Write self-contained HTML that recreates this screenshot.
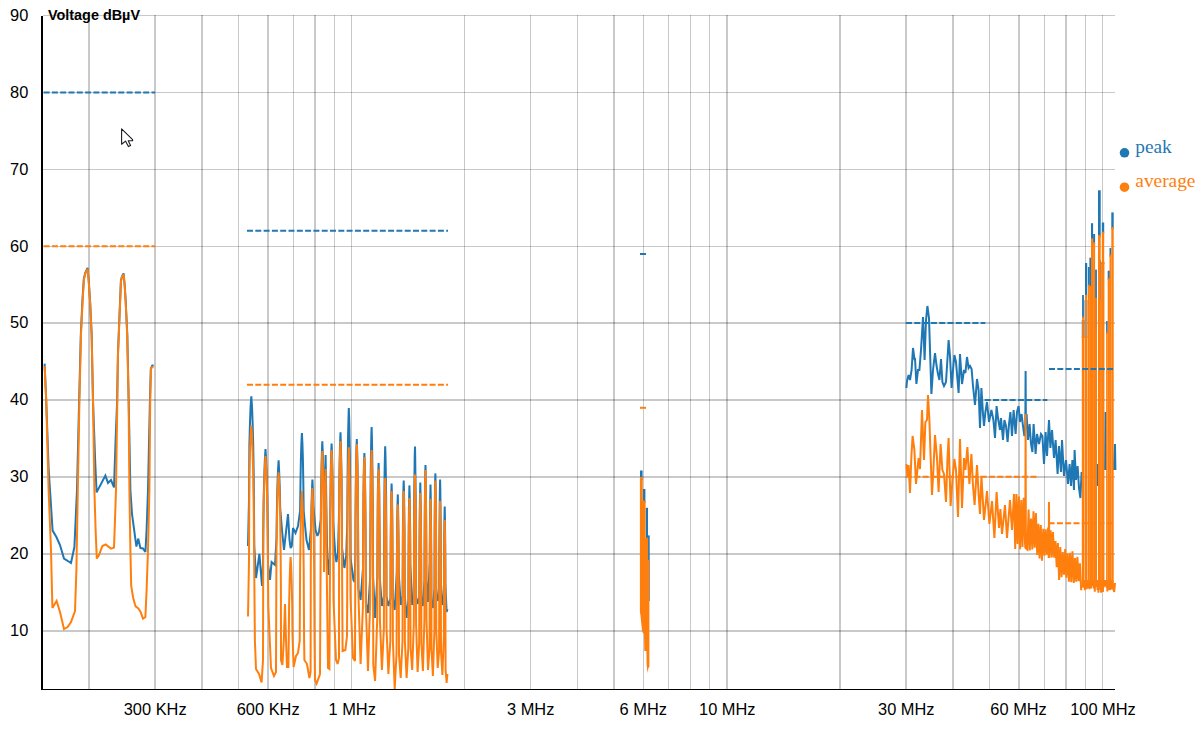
<!DOCTYPE html>
<html><head><meta charset="utf-8"><title>EMC chart</title>
<style>html,body{margin:0;padding:0;background:#fff;width:1202px;height:740px;overflow:hidden;font-family:"Liberation Sans",sans-serif}</style>
</head><body>
<svg width="1202" height="740" viewBox="0 0 1202 740" style="position:absolute;left:0;top:0;display:block">
<rect width="1202" height="740" fill="#fff"/>
<g fill="#000" fill-opacity="0.21" shape-rendering="crispEdges"><rect x="88" y="15" width="2" height="674"/><rect x="154" y="15" width="2" height="674"/><rect x="201" y="15" width="2" height="674"/><rect x="238" y="15" width="1" height="674"/><rect x="267" y="15" width="2" height="674"/><rect x="293" y="15" width="1" height="674"/><rect x="314" y="15" width="2" height="674"/><rect x="334" y="15" width="1" height="674"/><rect x="351" y="15" width="1" height="674"/><rect x="464" y="15" width="1" height="674"/><rect x="530" y="15" width="1" height="674"/><rect x="577" y="15" width="1" height="674"/><rect x="613" y="15" width="2" height="674"/><rect x="643" y="15" width="1" height="674"/><rect x="668" y="15" width="1" height="674"/><rect x="690" y="15" width="1" height="674"/><rect x="709" y="15" width="1" height="674"/><rect x="726" y="15" width="2" height="674"/><rect x="839" y="15" width="2" height="674"/><rect x="905" y="15" width="2" height="674"/><rect x="952" y="15" width="2" height="674"/><rect x="989" y="15" width="1" height="674"/><rect x="1018" y="15" width="2" height="674"/><rect x="1044" y="15" width="1" height="674"/><rect x="1065" y="15" width="2" height="674"/><rect x="1085" y="15" width="1" height="674"/><rect x="1102" y="15" width="1" height="674"/><rect x="43" y="15" width="1072" height="1"/><rect x="43" y="92" width="1072" height="1"/><rect x="43" y="169" width="1072" height="1"/><rect x="43" y="246" width="1072" height="1"/><rect x="43" y="322" width="1072" height="2"/><rect x="43" y="399" width="1072" height="2"/><rect x="43" y="476" width="1072" height="2"/><rect x="43" y="553" width="1072" height="2"/><rect x="43" y="630" width="1072" height="2"/></g>
<polyline points="44.6,363.6 46.2,400.0 48.6,468.0 50.0,490.0 52.6,530.6 56.4,537.0 60.0,545.0 64.0,558.6 71.0,563.0 74.4,547.0 77.0,490.0 79.1,402.0 80.8,335.0 82.4,301.0 83.8,279.0 85.4,272.5 87.6,267.8 88.7,280.0 90.1,301.0 91.7,335.0 93.0,401.0 95.2,462.0 96.6,492.4 105.4,475.6 108.0,483.0 111.0,480.0 114.0,487.4 115.6,440.0 117.1,402.0 117.9,355.0 119.5,315.0 120.9,281.0 121.9,276.5 123.6,273.4 124.7,285.0 125.7,301.0 127.3,335.0 128.7,401.0 130.4,490.0 132.0,514.0 136.4,546.6 138.2,538.6 140.4,548.0 143.0,548.4 145.4,552.0 146.6,530.0 148.0,490.0 149.9,402.0 150.8,369.0 152.0,365.8 153.6,365.2" fill="none" stroke="#1f77b4" stroke-width="2" stroke-linejoin="miter" stroke-miterlimit="3" stroke-linecap="butt" />
<polyline points="248.0,546.0 249.0,500.0 249.4,444.4 250.0,422.4 250.6,406.4 251.3,396.4 252.0,406.4 252.6,422.4 253.2,444.4 253.7,474.4 254.0,511.4 254.3,546.4 256.0,578.0 259.4,554.0 262.0,586.0 263.0,564.0 263.3,527.0 263.7,497.0 264.3,475.0 264.9,459.0 265.5,449.0 266.1,459.0 266.7,475.0 267.3,497.0 267.7,527.0 268.0,564.0 270.0,580.0 271.6,562.0 275.0,565.0 276.5,538.4 276.9,508.4 277.4,486.4 278.0,470.4 278.6,460.4 279.1,470.4 279.7,486.4 280.2,508.4 282.0,530.0 284.0,550.0 288.0,514.0 289.5,540.0 290.6,548.0 291.8,546.0 293.0,528.0 295.5,533.0 298.0,526.0 300.1,511.0 300.5,481.0 300.9,459.0 301.4,443.0 301.9,433.0 302.4,443.0 302.9,459.0 303.3,481.0 303.7,511.0 304.5,520.0 306.5,540.0 309.0,550.0 311.1,527.6 311.5,505.6 312.0,489.6 312.4,479.6 312.9,489.6 313.3,505.6 315.6,530.0 317.4,536.0 319.0,532.0 320.8,519.4 321.1,489.4 321.5,467.4 321.9,451.4 322.3,441.4 322.7,451.4 323.2,467.4 323.6,489.4 323.9,519.4 324.0,540.0 325.6,455.0 327.0,545.0 328.6,575.0 330.0,558.6 330.2,521.6 330.5,491.6 330.8,469.6 331.2,453.6 331.6,443.6 332.0,453.6 332.4,469.6 332.8,491.6 333.1,521.6 335.4,556.0 336.4,562.0 338.0,552.0 339.1,510.4 339.3,480.4 339.7,458.4 340.1,442.4 340.5,432.4 340.8,442.4 341.2,458.4 341.6,480.4 341.8,510.4 342.0,547.4 343.4,560.0 344.4,568.0 346.2,556.0 347.3,523.0 347.5,486.0 347.8,456.0 348.1,434.0 348.5,418.0 348.8,408.0 349.2,418.0 349.5,434.0 349.9,456.0 350.1,486.0 350.3,523.0 350.5,558.0 352.4,572.0 353.4,580.0 354.6,582.0 355.4,554.0 355.5,517.0 355.8,487.0 356.1,465.0 356.4,449.0 356.8,439.0 357.1,449.0 357.5,465.0 357.8,487.0 358.0,517.0 358.2,554.0 358.4,589.0 360.6,600.0 363.0,568.0 363.2,531.0 363.4,501.0 363.7,479.0 364.0,463.0 364.4,453.0 364.7,463.0 365.0,479.0 365.3,501.0 365.6,531.0 365.7,568.0 365.9,603.0 368.0,613.0 370.2,577.0 370.3,542.0 370.5,505.0 370.7,475.0 371.0,453.0 371.3,437.0 371.6,427.0 371.9,437.0 372.2,453.0 372.5,475.0 372.8,505.0 372.9,542.0 373.1,577.0 375.1,618.0 377.3,578.0 377.5,541.0 377.7,511.0 377.9,489.0 378.3,473.0 378.6,463.0 378.9,473.0 379.2,489.0 379.4,511.0 379.7,541.0 379.8,578.0 381.9,606.0 383.9,596.4 384.0,561.4 384.2,524.4 384.4,494.4 384.6,472.4 384.9,456.4 385.2,446.4 385.5,456.4 385.8,472.4 386.1,494.4 386.3,524.4 386.4,561.4 386.5,596.4 388.4,606.0 390.5,598.6 390.6,561.6 390.8,531.6 391.0,509.6 391.3,493.6 391.6,483.6 391.9,493.6 392.2,509.6 392.4,531.6 392.6,561.6 392.8,598.6 394.7,610.0 396.8,572.4 397.0,542.4 397.2,520.4 397.5,504.4 397.8,494.4 398.0,504.4 398.3,520.4 398.6,542.4 398.7,572.4 400.7,605.0 402.6,595.6 402.8,558.6 402.9,528.6 403.2,506.6 403.4,490.6 403.7,480.6 404.0,490.6 404.2,506.6 404.5,528.6 404.6,558.6 404.8,595.6 406.6,618.0 408.4,600.4 408.5,563.4 408.7,533.4 408.9,511.4 409.2,495.4 409.4,485.4 409.7,495.4 409.9,511.4 410.2,533.4 410.3,563.4 412.2,605.0 413.8,596.6 414.0,561.6 414.1,524.6 414.2,494.6 414.5,472.6 414.7,456.6 415.0,446.6 415.2,456.6 415.4,472.6 415.7,494.6 415.8,524.6 415.9,561.6 416.1,596.6 417.6,604.0 419.3,597.4 419.4,560.4 419.6,530.4 419.8,508.4 420.1,492.4 420.3,482.4 420.5,492.4 420.8,508.4 421.0,530.4 421.2,560.4 421.3,597.4 422.9,606.0 424.5,580.0 424.6,543.0 424.8,513.0 425.0,491.0 425.2,475.0 425.5,465.0 425.7,475.0 425.9,491.0 426.1,513.0 426.3,543.0 426.4,580.0 428.0,602.0 429.7,562.6 429.9,532.6 430.1,510.6 430.3,494.6 430.5,484.6 430.7,494.6 430.9,510.6 431.1,532.6 431.3,562.6 431.4,599.6 432.9,608.0 434.5,588.4 434.6,551.4 434.7,521.4 434.9,499.4 435.1,483.4 435.4,473.4 435.6,483.4 435.8,499.4 436.0,521.4 436.1,551.4 436.2,588.4 437.7,601.0 439.2,594.4 439.3,557.4 439.5,527.4 439.7,505.4 439.9,489.4 440.1,479.4 440.3,489.4 440.5,505.4 440.7,527.4 440.8,557.4 440.9,594.4 442.4,605.0 444.0,584.4 444.1,554.4 444.3,532.4 444.5,516.4 444.7,506.4 444.9,516.4 445.1,532.4 445.3,554.4 445.4,584.4 446.6,612.0 447.4,609.0" fill="none" stroke="#1f77b4" stroke-width="2" stroke-linejoin="miter" stroke-miterlimit="3" stroke-linecap="butt" />
<rect x="640.0" y="470.5" width="2.6" height="9.5" fill="#1f77b4"/><rect x="642.9" y="489" width="2.5" height="14.0" fill="#1f77b4"/><rect x="645.7" y="507.8" width="2.3" height="32.2" fill="#1f77b4"/><rect x="647.9" y="535.4" width="1.8" height="65.6" fill="#1f77b4"/>
<polyline points="906.4,388.0 907.0,381.0 908.6,375.0 910.0,380.0 911.6,370.0 913.0,348.0 914.6,360.0 915.0,358.0 916.4,384.0 918.0,370.0 919.4,370.0 921.0,350.0 923.0,317.0 924.6,360.0 926.0,320.0 927.4,306.0 929.0,318.0 930.0,350.0 931.4,394.0 933.0,370.0 935.0,353.0 936.6,366.0 938.0,374.0 939.4,380.0 941.0,359.0 942.4,382.0 944.0,386.0 946.0,382.0 947.4,360.0 948.6,340.0 950.0,356.0 951.6,388.0 953.0,370.0 954.4,355.0 956.0,362.0 958.6,393.0 960.0,354.0 962.0,384.0 964.0,370.0 965.4,373.0 967.0,357.0 968.6,368.0 970.0,366.0 971.6,369.0 973.0,386.0 975.0,405.0 977.0,379.0 978.6,390.0 980.0,428.0 981.4,388.0 983.0,414.0 984.0,426.0 985.4,412.0 987.0,402.0 989.0,422.0 991.4,410.0 993.4,420.0 995.0,438.0 996.6,406.0 998.0,418.0 1000.0,430.0 1001.0,418.0 1003.0,440.0 1004.4,420.0 1006.0,426.0 1007.6,442.0 1009.0,424.0 1010.4,412.0 1012.0,436.0 1013.6,410.0 1015.6,434.0 1017.0,412.0 1018.6,406.0 1020.0,422.0 1021.6,414.0 1023.0,426.0 1024.4,436.0 1025.3,430.0 1025.6,371.0 1025.9,424.0 1026.6,414.0 1028.0,440.0 1029.6,424.0 1031.0,444.0 1032.4,452.0 1033.6,424.0 1035.6,454.0 1037.0,434.0 1039.0,444.0 1041.0,434.0 1042.4,436.0 1044.0,464.0 1045.6,432.0 1047.0,456.0 1049.0,420.0 1050.4,448.0 1052.0,430.0 1054.0,458.0 1055.6,440.0 1057.6,474.0 1059.0,446.0 1061.0,472.0 1062.0,440.0 1064.0,476.0 1066.0,460.0 1068.0,484.0 1069.6,464.0 1071.0,486.0 1072.4,460.0 1074.0,490.0 1074.6,450.0 1076.0,480.0 1077.6,466.0 1079.0,488.0 1080.4,498.0 1081.6,472.0" fill="none" stroke="#1f77b4" stroke-width="2" stroke-linejoin="miter" stroke-miterlimit="3" stroke-linecap="butt" />
<rect x="1082.1" y="295.0" width="1.8" height="23.6" fill="#1f77b4"/><rect x="1081.8" y="320.0" width="2.5" height="18.0" fill="#1f77b4"/><rect x="1085.0" y="263.0" width="2.2" height="33.8" fill="#1f77b4"/><rect x="1084.6" y="300.0" width="2.8" height="38.0" fill="#1f77b4"/><rect x="1087.9" y="267.0" width="1.8" height="19.7" fill="#1f77b4"/><rect x="1089.4" y="257.7" width="1.6" height="30.3" fill="#1f77b4"/><rect x="1091.0" y="223.2" width="2.1" height="17.2" fill="#1f77b4"/><rect x="1093.1" y="234.0" width="2.0" height="10.2" fill="#1f77b4"/><rect x="1095.1" y="269.6" width="1.8" height="30.4" fill="#1f77b4"/><rect x="1095.1" y="300.0" width="1.9" height="32.0" fill="#1f77b4"/><rect x="1098.0" y="190.3" width="2.7" height="46.8" fill="#1f77b4"/><rect x="1098.0" y="260.0" width="2.8" height="42.0" fill="#1f77b4"/><rect x="1101.8" y="222.5" width="2.4" height="11.2" fill="#1f77b4"/><rect x="1101.1" y="262.0" width="3.2" height="2.0" fill="#1f77b4"/><rect x="1106.1" y="321.0" width="1.6" height="13.0" fill="#1f77b4"/><rect x="1107.7" y="270.7" width="2.2" height="9.5" fill="#1f77b4"/><rect x="1109.5" y="248.0" width="1.8" height="8.6" fill="#1f77b4"/><rect x="1111.3" y="212.4" width="2.4" height="16.6" fill="#1f77b4"/>
<polyline points="1097.0,486.0 1097.5,464.0 1098.0,486.0" fill="none" stroke="#1f77b4" stroke-width="2" stroke-linejoin="miter" stroke-miterlimit="3" stroke-linecap="butt" />
<polyline points="1105.0,470.0 1105.5,412.0 1106.0,470.0" fill="none" stroke="#1f77b4" stroke-width="2" stroke-linejoin="miter" stroke-miterlimit="3" stroke-linecap="butt" />
<polyline points="1113.6,470.0 1114.6,452.0 1115.0,444.0 1115.4,470.0" fill="none" stroke="#1f77b4" stroke-width="2" stroke-linejoin="miter" stroke-miterlimit="3" stroke-linecap="butt" />
<polyline points="44.6,366.0 46.2,400.0 48.6,490.0 51.0,550.0 52.4,608.0 56.6,601.0 60.0,612.0 64.0,629.0 67.6,627.0 71.0,622.0 75.0,611.0 76.4,570.0 77.8,490.0 79.4,402.0 81.0,335.0 82.6,301.0 84.0,279.0 85.5,273.0 87.6,269.0 88.6,280.0 90.0,301.0 91.6,335.0 93.0,401.0 94.4,490.0 95.6,530.0 96.8,558.6 99.0,555.0 102.4,546.0 105.6,544.4 111.0,548.6 114.0,547.6 115.0,520.0 116.0,490.0 117.3,402.0 118.0,355.0 119.6,315.0 121.0,281.0 122.0,277.0 123.6,274.4 124.6,285.0 125.6,301.0 127.2,335.0 128.6,401.0 129.4,490.0 130.4,550.0 131.2,586.0 133.2,598.0 135.6,606.4 138.4,608.4 140.6,612.0 143.0,618.6 145.4,617.0 146.6,590.0 148.0,550.0 149.4,490.0 150.2,402.0 151.0,369.0 152.0,367.0 153.6,366.6" fill="none" stroke="#ff7f0e" stroke-width="2" stroke-linejoin="miter" stroke-miterlimit="3" stroke-linecap="butt" />
<polyline points="248.0,616.6 249.0,560.0 249.4,473.6 250.0,451.6 250.6,435.6 251.3,425.6 252.0,435.6 252.6,451.6 253.2,473.6 253.7,503.6 254.0,540.6 254.3,575.6 254.9,640.6 256.0,669.0 259.0,674.0 261.6,682.4 263.0,660.0 263.3,534.0 263.7,504.0 264.3,482.0 264.9,466.0 265.5,456.0 266.1,466.0 266.7,482.0 267.3,504.0 267.7,534.0 268.0,571.0 268.3,606.0 271.0,668.0 274.0,676.0 276.0,672.0 276.3,587.4 276.5,550.4 276.9,520.4 277.4,498.4 278.0,482.4 278.6,472.4 279.1,482.4 279.7,498.4 280.2,520.4 280.6,550.4 280.9,587.4 281.0,660.0 282.4,665.0 283.8,640.0 285.0,604.0 286.0,640.0 287.0,667.0 288.4,667.0 288.8,635.0 289.1,605.0 289.6,583.0 290.1,567.0 290.6,557.0 291.2,567.0 291.7,583.0 292.2,605.0 292.5,635.0 293.6,667.0 296.0,656.0 298.0,653.0 299.7,641.0 299.9,606.0 300.1,569.0 300.5,539.0 300.9,517.0 301.4,501.0 301.9,491.0 302.4,501.0 302.9,517.0 303.3,539.0 303.7,569.0 303.9,606.0 304.1,641.0 304.4,660.0 307.0,664.0 309.4,678.0 310.6,672.0 310.8,566.0 311.1,536.0 311.5,514.0 312.0,498.0 312.4,488.0 312.9,498.0 313.3,514.0 313.8,536.0 314.1,566.0 314.3,603.0 314.5,638.0 315.0,680.0 316.6,683.6 320.0,674.0 320.4,601.0 320.6,566.0 320.8,529.0 321.1,499.0 321.5,477.0 321.9,461.0 322.3,451.0 322.7,461.0 323.2,477.0 323.6,499.0 323.9,529.0 324.0,572.0 325.6,469.0 326.6,560.0 328.0,668.0 329.4,669.0 329.8,600.0 330.0,565.0 330.2,528.0 330.5,498.0 330.8,476.0 331.2,460.0 331.6,450.0 332.0,460.0 332.4,476.0 332.8,498.0 333.1,528.0 333.3,565.0 333.5,600.0 336.0,660.0 337.6,664.0 339.0,658.0 339.1,519.0 339.3,489.0 339.7,467.0 340.1,451.0 340.5,441.0 340.8,451.0 341.2,467.0 341.6,489.0 341.8,519.0 342.0,556.0 342.2,591.0 342.6,651.0 345.4,650.0 347.0,636.0 347.2,597.4 347.3,562.4 347.5,525.4 347.8,495.4 348.1,473.4 348.5,457.4 348.8,447.4 349.2,457.4 349.5,473.4 349.9,495.4 350.1,525.4 350.3,562.4 350.5,597.4 353.0,658.0 355.0,661.0 355.2,594.0 355.4,559.0 355.5,522.0 355.8,492.0 356.1,470.0 356.4,454.0 356.8,444.0 357.1,454.0 357.5,470.0 357.8,492.0 358.0,522.0 358.2,559.0 358.4,594.0 360.6,664.0 362.9,607.0 363.0,572.0 363.2,535.0 363.4,505.0 363.7,483.0 364.0,467.0 364.4,457.0 364.7,467.0 365.0,483.0 365.3,505.0 365.6,535.0 365.7,572.0 365.9,607.0 368.0,671.0 370.2,600.0 370.3,565.0 370.5,528.0 370.7,498.0 371.0,476.0 371.3,460.0 371.6,450.0 371.9,460.0 372.2,476.0 372.5,498.0 372.8,528.0 372.9,565.0 373.1,600.0 373.3,665.0 375.1,681.0 377.2,619.4 377.3,584.4 377.5,547.4 377.7,517.4 377.9,495.4 378.3,479.4 378.6,469.4 378.9,479.4 379.2,495.4 379.4,517.4 379.7,547.4 379.8,584.4 379.9,619.4 381.9,670.0 383.9,628.0 384.0,593.0 384.2,556.0 384.4,526.0 384.6,504.0 384.9,488.0 385.2,478.0 385.5,488.0 385.8,504.0 386.1,526.0 386.3,556.0 386.4,593.0 386.5,628.0 388.4,674.0 390.3,641.0 390.5,606.0 390.6,569.0 390.8,539.0 391.0,517.0 391.3,501.0 391.6,491.0 391.9,501.0 392.2,517.0 392.4,539.0 392.6,569.0 392.8,606.0 392.9,641.0 394.7,689.0 396.5,654.4 396.7,619.4 396.8,582.4 397.0,552.4 397.2,530.4 397.5,514.4 397.8,504.4 398.0,514.4 398.3,530.4 398.6,552.4 398.7,582.4 398.9,619.4 399.0,654.4 400.7,678.0 402.5,641.0 402.6,606.0 402.8,569.0 402.9,539.0 403.2,517.0 403.4,501.0 403.7,491.0 404.0,501.0 404.2,517.0 404.5,539.0 404.6,569.0 404.8,606.0 404.9,641.0 406.6,678.0 408.3,648.0 408.4,613.0 408.5,576.0 408.7,546.0 408.9,524.0 409.2,508.0 409.4,498.0 409.7,508.0 409.9,524.0 410.2,546.0 410.3,576.0 410.4,613.0 410.6,648.0 412.2,670.0 413.8,624.4 414.0,589.4 414.1,552.4 414.2,522.4 414.5,500.4 414.7,484.4 415.0,474.4 415.2,484.4 415.4,500.4 415.7,522.4 415.8,552.4 415.9,589.4 416.1,624.4 417.6,672.0 419.2,643.0 419.3,608.0 419.4,571.0 419.6,541.0 419.8,519.0 420.1,503.0 420.3,493.0 420.5,503.0 420.8,519.0 421.0,541.0 421.2,571.0 421.3,608.0 421.4,643.0 422.9,671.0 424.4,620.0 424.5,585.0 424.6,548.0 424.8,518.0 425.0,496.0 425.2,480.0 425.5,470.0 425.7,480.0 425.9,496.0 426.1,518.0 426.3,548.0 426.4,585.0 426.5,620.0 428.0,670.0 429.5,649.0 429.6,614.0 429.7,577.0 429.9,547.0 430.1,525.0 430.3,509.0 430.5,499.0 430.7,509.0 430.9,525.0 431.1,547.0 431.3,577.0 431.4,614.0 431.5,649.0 432.9,676.0 434.4,630.6 434.5,595.6 434.6,558.6 434.7,528.6 434.9,506.6 435.1,490.6 435.4,480.6 435.6,490.6 435.8,506.6 436.0,528.6 436.1,558.6 436.2,595.6 436.3,630.6 437.7,668.0 439.1,651.0 439.2,616.0 439.3,579.0 439.5,549.0 439.7,527.0 439.9,511.0 440.1,501.0 440.3,511.0 440.5,527.0 440.7,549.0 440.8,579.0 440.9,616.0 441.0,651.0 442.4,675.0 443.9,635.0 444.0,598.0 444.1,568.0 444.3,546.0 444.5,530.0 444.7,520.0 444.9,530.0 445.1,546.0 445.3,568.0 445.4,598.0 445.5,635.0 445.6,670.0 446.6,683.0 447.4,674.0" fill="none" stroke="#ff7f0e" stroke-width="2" stroke-linejoin="miter" stroke-miterlimit="3" stroke-linecap="butt" />
<polygon points="639.9,477.0 642.8,477.0 642.8,500.5 645.6,500.5 645.6,537.8 648.2,537.8 648.2,560.0 649.4,560.0 649.4,667.0 648.4,668.0 647.4,673.0 646.6,664.0 646.4,651.0 644.3,651.0 644.0,634.0 642.2,632.0 640.4,615.0 639.9,612.0" fill="#ff7f0e"/>
<polyline points="906.4,464.0 907.4,476.0 908.6,465.0 910.0,493.0 911.4,456.0 912.6,436.0 914.4,450.0 916.0,484.0 917.4,470.0 918.6,458.0 920.0,469.0 922.0,410.0 924.0,460.0 925.4,422.0 927.0,420.0 928.0,395.0 929.4,420.0 930.6,456.0 932.0,495.0 933.4,470.0 935.0,435.0 937.0,458.0 938.6,492.0 940.6,444.0 942.4,470.0 944.0,474.0 946.0,502.0 947.4,460.0 948.6,438.0 950.6,506.0 952.6,478.0 954.4,459.0 956.0,470.0 958.0,517.0 960.0,439.0 962.0,508.0 964.0,458.0 965.4,470.0 967.4,447.0 969.4,484.0 971.4,454.0 973.0,486.0 974.6,505.0 977.0,465.0 978.6,494.0 980.0,514.0 981.4,476.0 984.0,520.0 987.0,491.0 989.4,524.0 992.0,501.0 994.4,538.0 996.6,492.0 999.0,528.0 1000.4,509.0 1002.0,534.0 1005.0,505.0 1007.0,538.0 1010.0,500.0 1012.0,530.0 1014.0,494.0 1015.2,549.0 1016.4,493.9 1017.6,544.0 1018.9,496.5 1020.1,549.2 1021.3,500.1 1022.5,547.0 1023.7,497.7 1025.0,542.3 1025.3,548.3 1025.6,414.0 1025.9,548.3 1027.4,549.6 1028.6,509.6 1029.8,550.4 1031.1,518.5 1032.3,549.4 1033.5,511.4 1034.7,547.7 1035.9,513.1 1037.2,554.9 1038.4,523.9 1039.6,558.5 1040.8,525.1 1042.0,560.7 1043.3,528.9 1044.5,555.6 1045.7,529.2 1046.9,554.8 1048.1,527.6 1048.7,558.0 1049.0,502.0 1049.3,558.0 1050.6,530.4 1051.8,557.4 1053.0,532.1 1054.2,557.7 1055.5,541.1 1056.7,567.1 1057.9,543.0 1059.1,579.9 1060.3,547.1 1061.6,577.1 1062.8,552.1 1064.0,574.8 1065.2,549.1 1066.4,577.6 1067.7,553.3 1068.9,581.8 1070.1,552.8 1071.3,582.3 1072.5,551.4 1073.8,583.0 1075.0,558.1 1076.2,581.8 1077.4,556.9 1078.6,581.3 1079.9,563.4 1081.1,589.2 1082.0,590.0" fill="none" stroke="#ff7f0e" stroke-width="2" stroke-linejoin="miter" stroke-miterlimit="3" stroke-linecap="butt" />
<rect x="1082.1" y="316.6" width="1.8" height="269.4" fill="#ff7f0e"/><rect x="1081.8" y="336.0" width="2.5" height="250.0" fill="#ff7f0e"/><rect x="1085.0" y="294.8" width="2.2" height="291.2" fill="#ff7f0e"/><rect x="1084.6" y="336.0" width="2.8" height="250.0" fill="#ff7f0e"/><rect x="1087.9" y="284.7" width="1.8" height="301.3" fill="#ff7f0e"/><rect x="1089.4" y="286.0" width="1.6" height="300.0" fill="#ff7f0e"/><rect x="1091.0" y="238.4" width="2.1" height="347.6" fill="#ff7f0e"/><rect x="1093.1" y="242.2" width="2.0" height="343.8" fill="#ff7f0e"/><rect x="1095.1" y="298.0" width="1.8" height="288.0" fill="#ff7f0e"/><rect x="1095.1" y="330.0" width="1.9" height="256.0" fill="#ff7f0e"/><rect x="1098.0" y="235.1" width="2.7" height="350.9" fill="#ff7f0e"/><rect x="1098.0" y="300.0" width="2.8" height="286.0" fill="#ff7f0e"/><rect x="1101.8" y="231.7" width="2.4" height="354.3" fill="#ff7f0e"/><rect x="1101.1" y="262.0" width="3.2" height="324.0" fill="#ff7f0e"/><rect x="1106.1" y="332.0" width="1.6" height="254.0" fill="#ff7f0e"/><rect x="1107.7" y="278.2" width="2.2" height="307.8" fill="#ff7f0e"/><rect x="1109.5" y="254.6" width="1.8" height="331.4" fill="#ff7f0e"/><rect x="1111.3" y="227.0" width="2.4" height="359.0" fill="#ff7f0e"/>
<polyline points="1082.6,580.0 1083.0,587.6 1083.5,580.0 1084.0,586.2 1084.4,580.0 1084.9,590.2 1085.3,580.0 1085.8,585.6 1086.2,580.0 1086.7,589.3 1087.1,580.0 1087.6,587.9 1088.0,580.0 1088.5,585.5 1088.9,580.0 1089.4,589.1 1089.8,580.0 1090.3,585.3 1090.7,580.0 1091.2,588.5 1091.6,580.0 1092.1,585.6 1092.5,580.0 1093.0,585.7 1093.4,580.0 1093.9,588.4 1094.3,580.0 1094.8,591.6 1095.2,580.0 1095.7,586.0 1096.1,580.0 1096.6,586.8 1097.0,580.0 1097.5,590.0 1097.9,580.0 1098.4,592.6 1098.8,580.0 1099.3,589.6 1099.7,580.0 1100.2,588.2 1100.6,580.0 1101.1,592.8 1101.5,580.0 1102.0,585.4 1102.4,580.0 1102.9,591.9 1103.3,580.0 1103.8,587.3 1104.2,580.0 1104.7,586.2 1105.1,580.0 1105.6,585.9 1106.0,580.0 1106.5,587.5 1106.9,580.0 1107.4,591.5 1107.8,580.0 1108.3,586.4 1108.7,580.0 1109.2,589.7 1109.6,580.0 1110.1,590.1 1110.5,580.0 1111.0,588.0 1111.4,580.0 1111.9,589.4 1112.3,580.0 1112.8,585.5 1113.6,590.0 1114.2,592.0 1115.0,583.0" fill="none" stroke="#ff7f0e" stroke-width="2" stroke-linejoin="miter" stroke-miterlimit="3" stroke-linecap="butt" />
<line x1="43.6" y1="92.6" x2="155" y2="92.6" stroke="#1f77b4" stroke-width="2" stroke-dasharray="6 2.3"/><line x1="247" y1="230.8" x2="448" y2="230.8" stroke="#1f77b4" stroke-width="2" stroke-dasharray="6 2.3"/><line x1="640" y1="254" x2="646" y2="254" stroke="#1f77b4" stroke-width="2" stroke-dasharray="6 2.3"/><line x1="906" y1="323" x2="985.3" y2="323" stroke="#1f77b4" stroke-width="2" stroke-dasharray="6 2.3"/><line x1="984.7" y1="400" x2="1047.4" y2="400" stroke="#1f77b4" stroke-width="2" stroke-dasharray="6 2.3"/><line x1="1049" y1="368.9" x2="1114.5" y2="368.9" stroke="#1f77b4" stroke-width="2" stroke-dasharray="6 2.3"/><line x1="43.6" y1="246.3" x2="155" y2="246.3" stroke="#ff7f0e" stroke-width="2" stroke-dasharray="6 2.3"/><line x1="247" y1="384.7" x2="448" y2="384.7" stroke="#ff7f0e" stroke-width="2" stroke-dasharray="6 2.3"/><line x1="640" y1="407.8" x2="646" y2="407.8" stroke="#ff7f0e" stroke-width="2" stroke-dasharray="6 2.3"/><line x1="906" y1="476.8" x2="1039" y2="476.8" stroke="#ff7f0e" stroke-width="2" stroke-dasharray="6 2.3"/><line x1="1048.6" y1="523.3" x2="1114.5" y2="523.3" stroke="#ff7f0e" stroke-width="2" stroke-dasharray="6 2.3"/>
<g fill="#000" shape-rendering="crispEdges"><rect x="41" y="16" width="2" height="674"/><rect x="41" y="689" width="1074" height="1"/></g>
<g font-family="'Liberation Sans', sans-serif" font-size="16.4px" fill="#000"><text x="28.3" y="20.8" text-anchor="end">90</text><text x="28.3" y="97.8" text-anchor="end">80</text><text x="28.3" y="174.8" text-anchor="end">70</text><text x="28.3" y="251.8" text-anchor="end">60</text><text x="28.3" y="328.3" text-anchor="end">50</text><text x="28.3" y="405.3" text-anchor="end">40</text><text x="28.3" y="482.3" text-anchor="end">30</text><text x="28.3" y="559.3" text-anchor="end">20</text><text x="28.3" y="636.3" text-anchor="end">10</text><text x="155.2" y="715" text-anchor="middle">300 KHz</text><text x="268.2" y="715" text-anchor="middle">600 KHz</text><text x="352.2" y="715" text-anchor="middle">1 MHz</text><text x="530.7" y="715" text-anchor="middle">3 MHz</text><text x="643.3" y="715" text-anchor="middle">6 MHz</text><text x="727.3" y="715" text-anchor="middle">10 MHz</text><text x="906.3" y="715" text-anchor="middle">30 MHz</text><text x="1018.6" y="715" text-anchor="middle">60 MHz</text><text x="1103" y="715" text-anchor="middle">100 MHz</text></g>
<text x="48" y="20" font-family="'Liberation Sans', sans-serif" font-weight="bold" font-size="14.4px" fill="#000">Voltage dBµV</text>
<circle cx="1124.5" cy="152.8" r="4.8" fill="#1f77b4"/><text transform="translate(1135.3,152.6) scale(1.045,1)" font-family="'Liberation Serif', serif" font-size="18.5px" fill="#1f77b4">peak</text>
<circle cx="1124.5" cy="187.2" r="4.8" fill="#ff7f0e"/><text transform="translate(1135.3,186.7) scale(1.047,1)" font-family="'Liberation Serif', serif" font-size="18.5px" fill="#ff7f0e">average</text>
<path d="M121.6 128.9 L121.6 144.3 L125.5 141.1 L128.4 146.6 L130.6 145.6 L128.2 140.7 L132.6 140.7 L132.6 139.7 Z" fill="#fff" stroke="#1b1b27" stroke-width="1.1" stroke-linejoin="round"/>
</svg>
</body></html>
